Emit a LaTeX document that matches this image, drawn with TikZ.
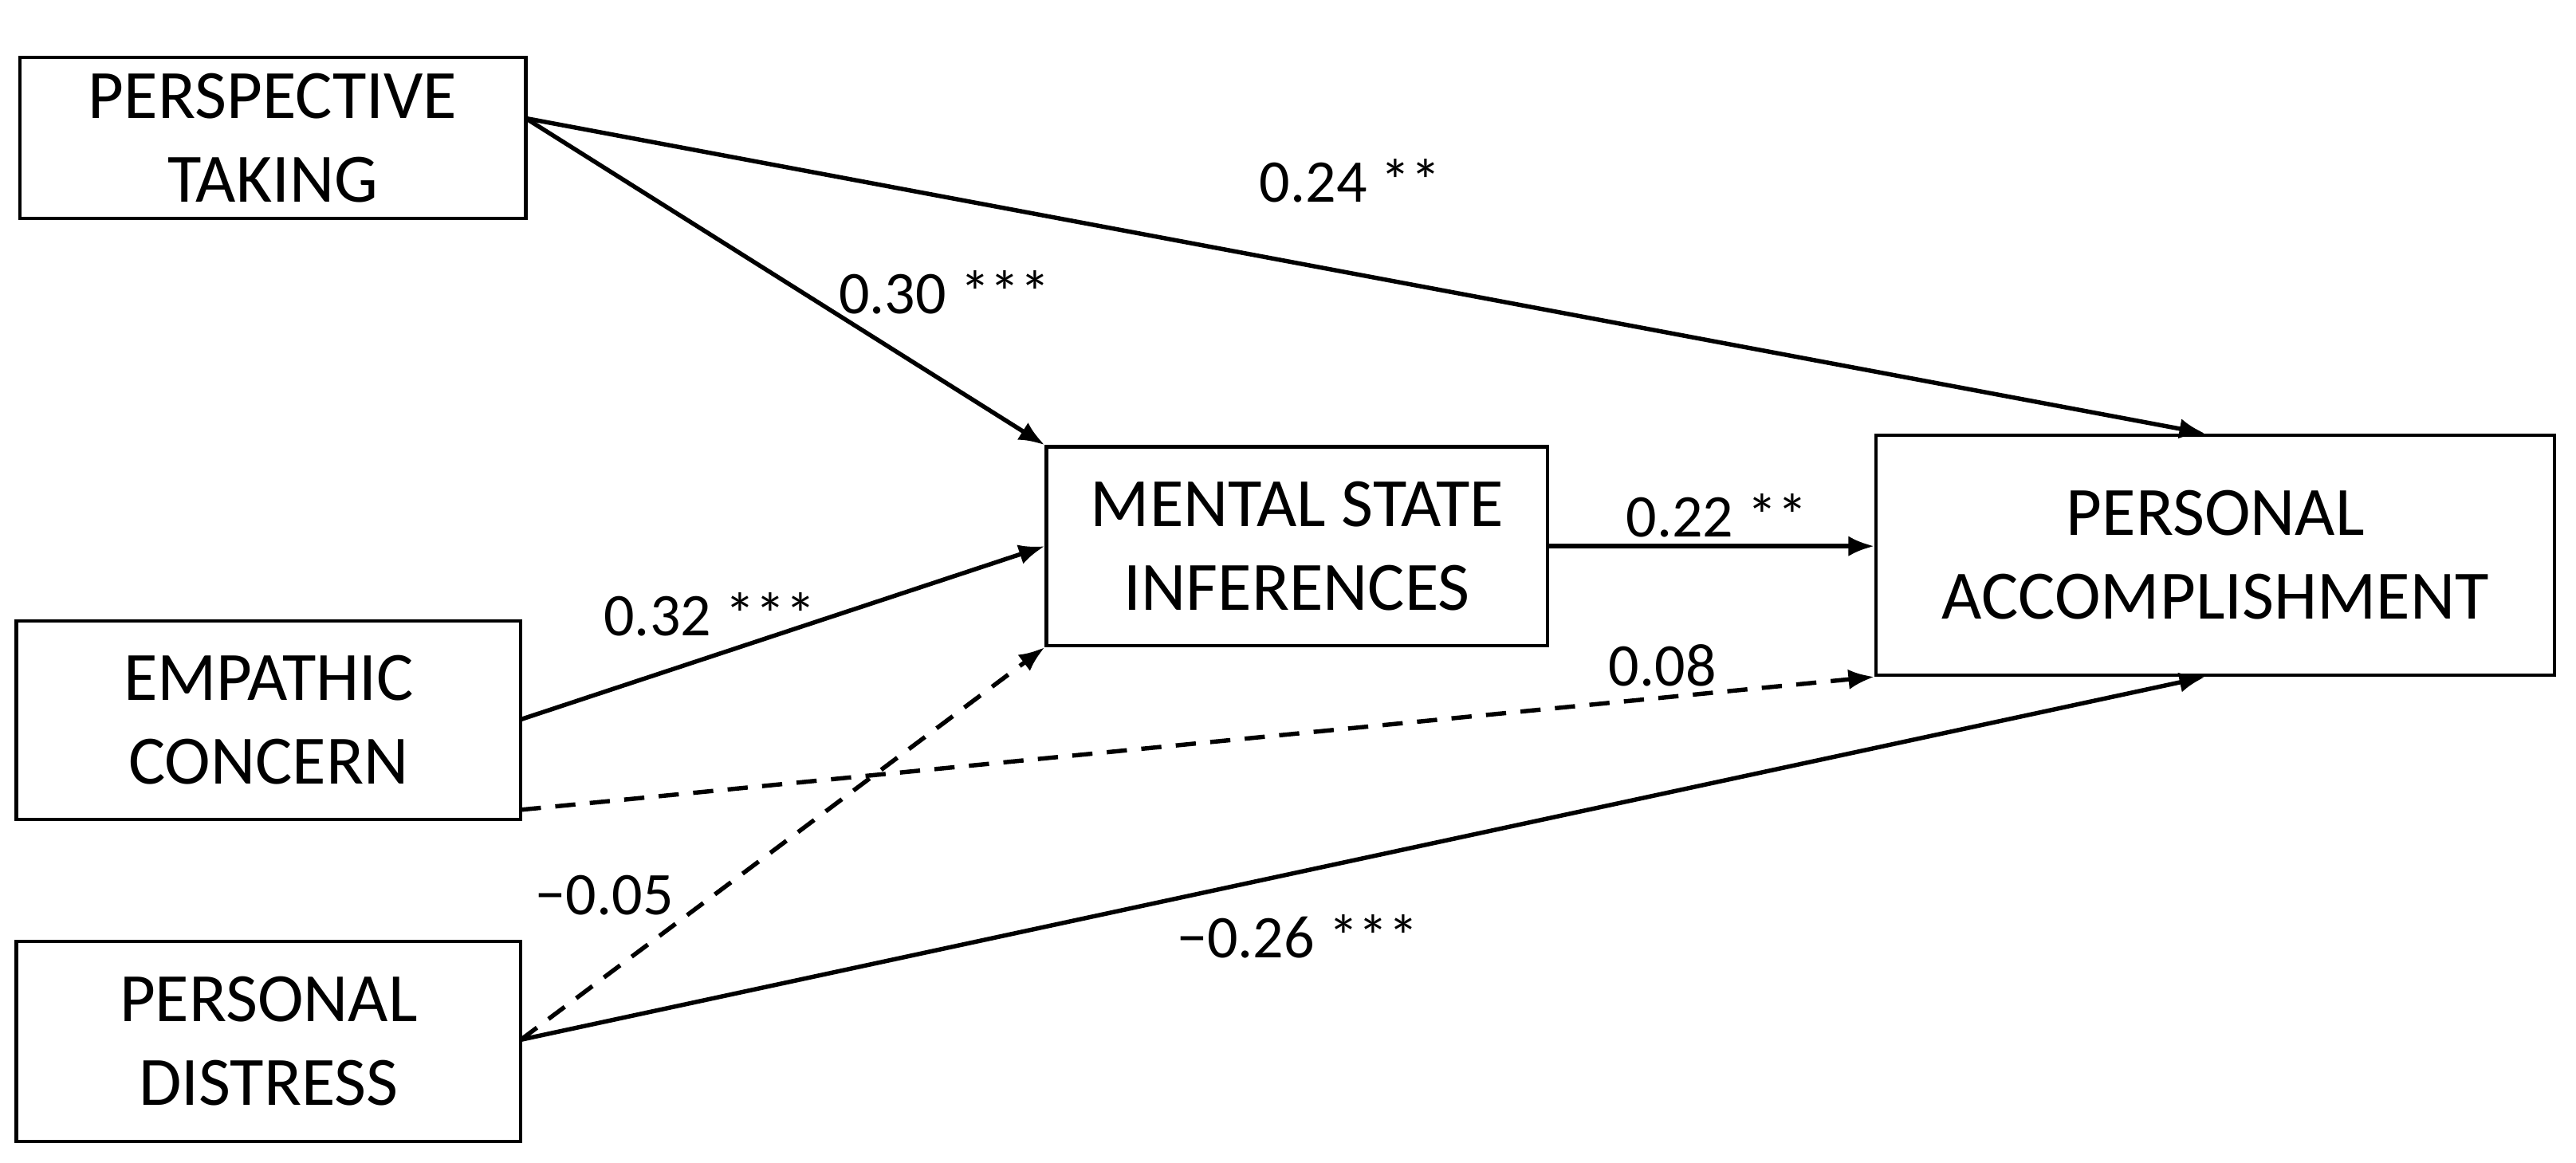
\documentclass[tikz,border=0pt]{standalone}
\usepackage{fontspec}
\setmainfont{Carlito}
\usetikzlibrary{arrows.meta}
\begin{document}
\begin{tikzpicture}[x=0.02cm,y=-0.02cm,
 box/.style={draw,line width=1.2pt,align=center,font=\fontsize{24}{29}\selectfont,inner sep=0pt},
 arr/.style={line width=1.5pt,-{Latex[length=9pt,width=7pt]}},
 dsh/.style={arr,dash pattern=on 7pt off 5pt},
 lab/.style={font=\fontsize{21}{25}\selectfont}]
\useasboundingbox (0,0) rectangle (1568,708);
\node[box,minimum width=308*0.02cm,minimum height=98*0.02cm] (pt) at (166,84) {PERSPECTIVE\\TAKING};
\node[box,minimum width=307*0.02cm,minimum height=121*0.02cm] (ec) at (163.5,438.5) {EMPATHIC\\CONCERN};
\node[box,minimum width=307*0.02cm,minimum height=122*0.02cm] (pd) at (163.5,634) {PERSONAL\\DISTRESS};
\node[box,minimum width=305*0.02cm,minimum height=121*0.02cm] (msi) at (789.5,332.5) {MENTAL STATE\\INFERENCES};
\node[box,minimum width=413*0.02cm,minimum height=146*0.02cm] (pa) at (1348.5,338) {PERSONAL\\ACCOMPLISHMENT};
\coordinate (ptr) at (320,72);
\coordinate (ecr) at (317,438);
\coordinate (ecb) at (317,493);
\coordinate (pdr) at (317,633);
\draw[arr] (ptr) -- (msi.north west);
\draw[arr] (ptr) -- ([xshift=-3.5pt]pa.north);
\draw[arr] (ecr) -- (msi.west);
\draw[dsh] (ecb) -- (pa.south west);
\draw[dsh] (pdr) -- (msi.south west);
\draw[arr] (pdr) -- ([xshift=-3.5pt]pa.south);
\draw[arr] (msi.east) -- (pa.west |- msi.east);
\node[lab] (l1) at (822,110) {0.24 **};
\node[lab] (l2) at (575,178) {0.30 ***};
\node[lab] (l3) at (1045,314) {0.22 **};
\node[lab] (l4) at (432,374) {0.32 ***};
\node[lab] (l5) at (1012,405) {0.08};
\node[lab] (l6) at (368,545) {−0.05};
\node[lab] (l7) at (790,570) {−0.26 ***};
\end{tikzpicture}
\end{document}
